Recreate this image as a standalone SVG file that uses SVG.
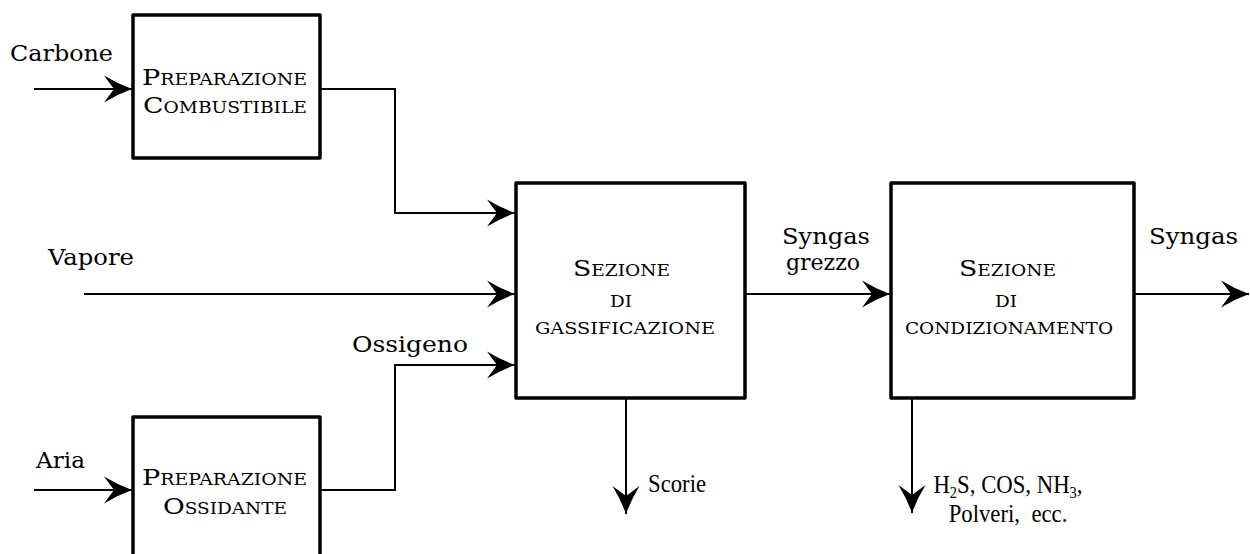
<svg xmlns="http://www.w3.org/2000/svg" width="1250" height="554" viewBox="0 0 1250 554">
  <style>
    .box { fill: #fff; stroke: #000; stroke-width: 3.5; stroke-linejoin: round; }
    .flow { fill: none; stroke: #000; stroke-width: 2; }
    .lbl { font-family: "DejaVu Serif", "Liberation Serif", serif; font-size: 23px; fill: #000; }
    .sc { font-family: "DejaVu Serif", "Liberation Serif", serif; font-size: 23px; font-variant: small-caps; fill: #000; }
    .tm { font-family: "Liberation Serif", serif; font-size: 25px; fill: #000; white-space: pre; }
  </style>
  <defs>
    <marker id="arr" markerUnits="userSpaceOnUse" viewBox="-30 -15 32 30" refX="0" refY="0" markerWidth="32" markerHeight="30" orient="auto">
      <path d="M0,0 Q-14,-5 -28,-13.5 L-18,0 L-28,13.5 Q-14,5 0,0 Z" fill="#000"/>
    </marker>
  </defs>

  <!-- connectors -->
  <g id="connectors">
    <path class="flow" d="M34,89 H132" marker-end="url(#arr)"/>
    <path class="flow" d="M320,89 H395 V213 H515" marker-end="url(#arr)"/>
    <path class="flow" d="M84,294 H515" marker-end="url(#arr)"/>
    <path class="flow" d="M320,490 H395 V365 H515" marker-end="url(#arr)"/>
    <path class="flow" d="M34,490 H132" marker-end="url(#arr)"/>
    <path class="flow" d="M746,294 H890" marker-end="url(#arr)"/>
    <path class="flow" d="M1135,294 H1249" marker-end="url(#arr)"/>
    <path class="flow" d="M626,399 V514" marker-end="url(#arr)"/>
    <path class="flow" d="M912,399 V513" marker-end="url(#arr)"/>
  </g>

  <!-- flow labels -->
  <g id="labels">
    <text class="lbl" x="10" y="61" textLength="103" lengthAdjust="spacingAndGlyphs">Carbone</text>
    <text class="lbl" x="48" y="265" textLength="86" lengthAdjust="spacingAndGlyphs">Vapore</text>
    <text class="lbl" x="352" y="352" textLength="116" lengthAdjust="spacingAndGlyphs">Ossigeno</text>
    <text class="lbl" x="36" y="468" textLength="49" lengthAdjust="spacingAndGlyphs">Aria</text>
    <text class="lbl" x="782" y="244" textLength="88" lengthAdjust="spacingAndGlyphs">Syngas</text>
    <text class="lbl" x="786" y="270" textLength="74" lengthAdjust="spacingAndGlyphs">grezzo</text>
    <text class="lbl" x="1149" y="244" textLength="89" lengthAdjust="spacingAndGlyphs">Syngas</text>
    <text class="tm" x="648" y="492" transform="translate(648 0) scale(0.91 1) translate(-648 0)">Scorie</text>
    <text class="tm" x="1008" y="493" text-anchor="middle" transform="translate(1008 0) scale(0.91 1) translate(-1008 0)">H<tspan font-size="16" dy="5">2</tspan><tspan dy="-5">S, COS, NH</tspan><tspan font-size="16" dy="5">3</tspan><tspan dy="-5">,</tspan></text>
    <text class="tm" x="1008" y="522" text-anchor="middle" transform="translate(1008 0) scale(0.91 1) translate(-1008 0)">Polveri,  ecc.</text>
  </g>

  <g id="prep-combustibile">
    <rect class="box" x="133" y="15" width="187" height="143"/>
    <text class="sc" x="142" y="85" textLength="165" lengthAdjust="spacingAndGlyphs">Preparazione</text>
    <text class="sc" x="143" y="113" textLength="164" lengthAdjust="spacingAndGlyphs">Combustibile</text>
  </g>

  <g id="prep-ossidante">
    <rect class="box" x="133" y="417" width="187" height="150"/>
    <text class="sc" x="142" y="485" textLength="165" lengthAdjust="spacingAndGlyphs">Preparazione</text>
    <text class="sc" x="163" y="514" textLength="124" lengthAdjust="spacingAndGlyphs">Ossidante</text>
  </g>

  <g id="sez-gassificazione">
    <rect class="box" x="516" y="183" width="229" height="215"/>
    <text class="sc" x="573" y="276" textLength="97" lengthAdjust="spacingAndGlyphs">Sezione</text>
    <text class="sc" x="610" y="307" textLength="22" lengthAdjust="spacingAndGlyphs">di</text>
    <text class="sc" x="535" y="334" textLength="180" lengthAdjust="spacingAndGlyphs">gassificazione</text>
  </g>

  <g id="sez-condizionamento">
    <rect class="box" x="891" y="183" width="243" height="215"/>
    <text class="sc" x="959" y="276" textLength="97" lengthAdjust="spacingAndGlyphs">Sezione</text>
    <text class="sc" x="995" y="307" textLength="22" lengthAdjust="spacingAndGlyphs">di</text>
    <text class="sc" x="905" y="334" textLength="208" lengthAdjust="spacingAndGlyphs">condizionamento</text>
  </g>
</svg>
